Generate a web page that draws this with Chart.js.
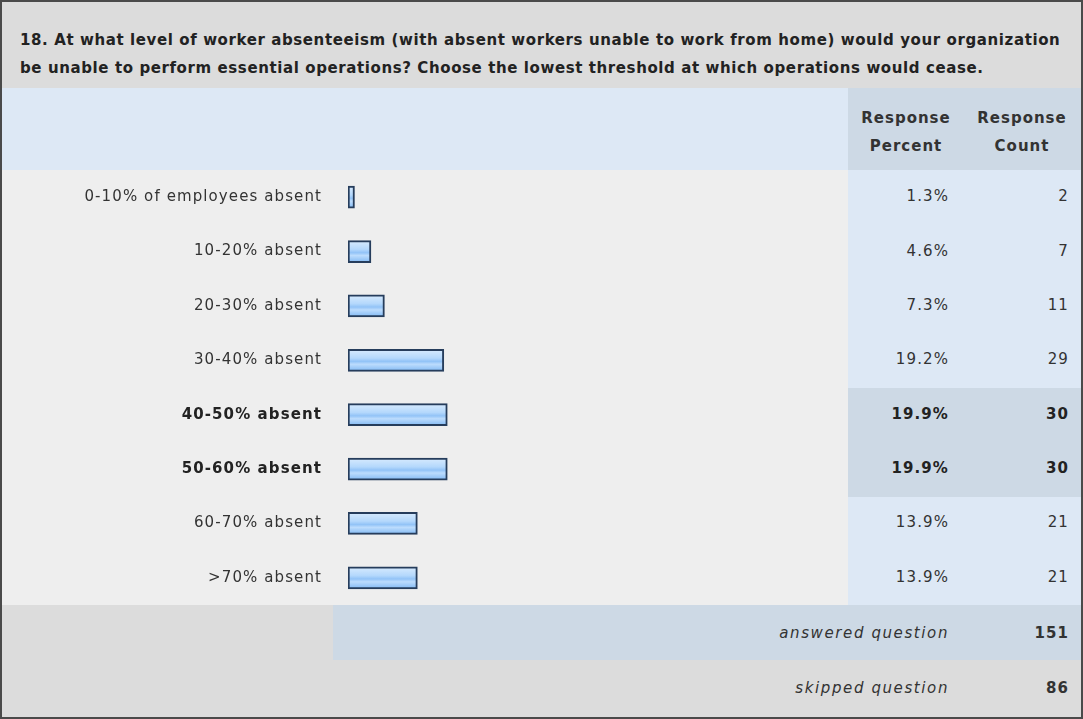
<!DOCTYPE html>
<html>
<head>
<meta charset="utf-8">
<script src="https://cdn.jsdelivr.net/npm/chart.js@4"></script>
<style>
  body { margin: 0; width: 1083px; height: 719px; overflow: hidden; background: #fff; font-family: "DejaVu Sans", Verdana, sans-serif; color: #333; }
  #wrap { position: absolute; left: 0; top: 0; width: 1079px; height: 715px; border: 2px solid #4a4a4a; background: #eeeeee; }
  .box { position: absolute; }
  .txt { position: absolute; font-size: 15px; letter-spacing: 1.1px; white-space: nowrap; }
  #title { left: 18px; top: 24px; font-weight: bold; line-height: 28px; letter-spacing: 0.6px; color: #222; }
  .r { text-align: right; }
  .it { font-style: italic; letter-spacing: 1.6px; }
  .hdr { font-weight: bold; text-align: center; line-height: 28px; color: #333; letter-spacing: 1px; }
  #chartBox { position: absolute; left: 1px; top: 168px; width: 845px; height: 435px; }
</style>
</head>
<body>
<div id="wrap">
  <div class="box" style="left:0;top:0;width:1079px;height:86px;background:#dcdcdc"></div>
  <div class="box" style="left:0;top:86px;width:846px;height:82px;background:#dde8f5"></div>
  <div class="box" style="left:846px;top:86px;width:233px;height:82px;background:#cdd9e5"></div>
  <div class="box" style="left:846px;top:168px;width:233px;height:435px;background:#dde8f5"></div>
  <div class="box" style="left:846px;top:386px;width:233px;height:109px;background:#cdd9e5"></div>
  <div class="box" style="left:0;top:603px;width:331px;height:55px;background:#dcdcdc"></div>
  <div class="box" style="left:331px;top:603px;width:748px;height:55px;background:#cdd9e5"></div>
  <div class="box" style="left:0;top:658px;width:1079px;height:57px;background:#dcdcdc"></div>
  <div id="title" class="txt">18. At what level of worker absenteeism (with absent workers unable to work from home) would your organization<br>be unable to perform essential operations? Choose the lowest threshold at which operations would cease.</div>
  <div class="txt hdr" style="left:846px;top:102px;width:116px">Response<br>Percent</div>
  <div class="txt hdr" style="left:962px;top:102px;width:116px">Response<br>Count</div>
  <div id="cols"></div>
  <div class="txt r it" style="left:560px;top:622px;width:387px">answered question</div>
  <div class="txt r" id="answered" style="left:980px;top:622px;width:87px;font-weight:bold"></div>
  <div class="txt r it" style="left:560px;top:677px;width:387px">skipped question</div>
  <div class="txt r" id="skipped" style="left:980px;top:677px;width:87px;font-weight:bold"></div>
  <div id="chartBox"><canvas id="absentChart"></canvas></div>
</div>
<script>
const categories = ['0-10% of employees absent', '10-20% absent', '20-30% absent', '30-40% absent',
  '40-50% absent', '50-60% absent', '60-70% absent', '>70% absent'];
const responsePercent = [1.3, 4.6, 7.3, 19.2, 19.9, 19.9, 13.9, 13.9];
const responseCount = [2, 7, 11, 29, 30, 30, 21, 21];
const highlighted = [4, 5];
const answeredQuestion = 151;
const skippedQuestion = 86;

// percent / count columns
const cols = document.getElementById('cols');
const rowH = 435 / categories.length;
categories.forEach((c, i) => {
  const top = 168 + rowH * i + rowH / 2 - 10;
  const bold = highlighted.includes(i) ? 'font-weight:bold;color:#222;' : '';
  cols.innerHTML += '<div class="txt r" style="left:830px;top:' + top + 'px;width:117px;' + bold + '">' + responsePercent[i].toFixed(1) + '%</div>';
  cols.innerHTML += '<div class="txt r" style="left:980px;top:' + top + 'px;width:87px;' + bold + '">' + responseCount[i] + '</div>';
});
document.getElementById('answered').textContent = answeredQuestion;
document.getElementById('skipped').textContent = skippedQuestion;

const barH = 22;
function barGradient(ctx) {
  const chart = ctx.chart;
  const y = chart.scales.y;
  if (!y || !chart.chartArea) return '#a9d0fa';
  const c = y.getPixelForValue(ctx.dataIndex);
  const g = chart.ctx.createLinearGradient(0, c - barH / 2, 0, c + barH / 2);
  g.addColorStop(0, '#d8ebfe');
  g.addColorStop(0.4, '#b4d8fc');
  g.addColorStop(0.55, '#92c3f7');
  g.addColorStop(0.68, '#bcdcfd');
  g.addColorStop(1, '#80b8f3');
  return g;
}

new Chart(document.getElementById('absentChart'), {
  type: 'bar',
  data: {
    labels: categories,
    datasets: [{
      data: responsePercent,
      backgroundColor: barGradient,
      borderColor: '#263d5c',
      borderWidth: 2,
      borderSkipped: false,
      barThickness: barH
    }]
  },
  options: {
    indexAxis: 'y',
    responsive: true,
    maintainAspectRatio: false,
    animation: false,
    layout: { padding: { left: 0, right: 1, top: 0, bottom: 0 } },
    plugins: { legend: { display: false }, tooltip: { enabled: false } },
    scales: {
      x: { min: 0, max: 100, display: false },
      y: {
        afterFit: scale => {
          scale.width = 345;
          scale.paddingTop = 0;
          scale.paddingBottom = 0;
        },
        grid: { display: false, drawTicks: false },
        border: { display: false },
        ticks: {
          padding: 26,
          color: ctx => highlighted.includes(ctx.index) ? '#222' : '#333',
          font: ctx => ({ family: 'DejaVu Sans', size: 15, weight: highlighted.includes(ctx.index) ? 'bold' : 'normal' })
        }
      }
    }
  },
  plugins: [{
    id: 'spacing',
    beforeDraw: chart => { chart.ctx.letterSpacing = '1.1px'; }
  }]
});
</script>
</body>
</html>
